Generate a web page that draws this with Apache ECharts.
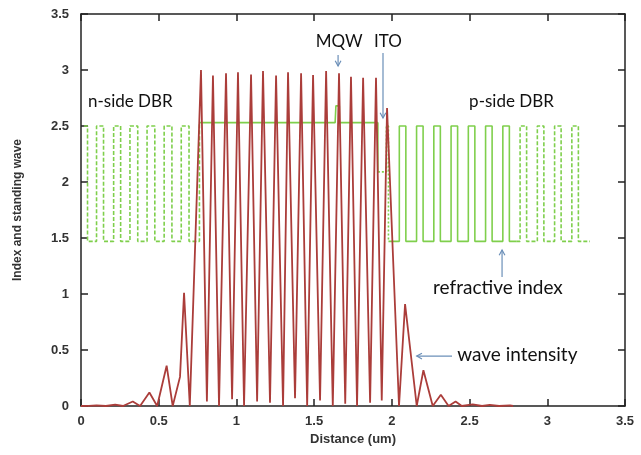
<!DOCTYPE html>
<html><head><meta charset="utf-8">
<script src="https://cdn.jsdelivr.net/npm/echarts@6/dist/echarts.min.js"></script>
<style>html,body{margin:0;padding:0;background:#fff}#c{width:641px;height:455px}</style>
</head><body><div id="c"></div>
<script>
// ---- data ----
// standing-wave intensity
const waveX = [0, 0.05, 0.10, 0.16, 0.22, 0.27, 0.333, 0.38, 0.44, 0.49, 0.551, 0.59, 0.637, 0.663, 0.70,
  0.772, 0.81, 0.849, 0.888, 0.933, 0.972, 1.010, 1.049, 1.094, 1.133, 1.171, 1.216, 1.255, 1.30, 1.332, 1.377,
  1.416, 1.455, 1.493, 1.538, 1.577, 1.62, 1.660, 1.70, 1.737, 1.776, 1.815, 1.86, 1.898, 1.935, 1.969, 2.046,
  2.085, 2.16, 2.203, 2.263, 2.315, 2.365, 2.41, 2.45, 2.52, 2.58, 2.63, 2.69, 2.76, 2.78];
const waveY = [0, 0.002, 0.006, 0.0, 0.012, 0.0, 0.04, 0.0, 0.12, 0.0, 0.36, 0.0, 0.26, 1.01, 0.0,
  3.0, 0.04, 2.95, 0.0, 2.97, 0.06, 2.98, 0.0, 2.96, 0.04, 2.99, 0.03, 2.95, 0.0, 2.98, 0.07,
  2.97, 0.0, 2.955, 0.05, 2.99, 0.0, 2.97, 0.02, 2.94, 0.0, 2.93, 0.03, 2.93, 0.05, 2.66, 0.0,
  0.91, 0.0, 0.32, 0.0, 0.1, 0.0, 0.04, 0.0, 0.015, 0.0, 0.01, 0.0, 0.005, 0.0];

// refractive index profile: layer edges (um) and index level starting at each edge
const nDbrEdges  = [0.02, 0.042, 0.10, 0.145, 0.21, 0.255, 0.315, 0.365, 0.425, 0.475, 0.535, 0.585, 0.645, 0.695, 0.762];
const nDbrLevels = [2.5, 1.47, 2.5, 1.47, 2.5, 1.47, 2.5, 1.47, 2.5, 1.47, 2.5, 1.47, 2.5, 1.47, 2.53];
const activeEdges  = [0.762, 1.635, 1.640, 1.662, 1.667, 1.91];
const activeLevels = [2.53, 2.53, 2.68, 2.53, 2.53, 2.09];
const itoEdges  = [1.91, 1.965, 1.978];
const itoLevels = [2.09, 2.5, 1.47];
const pDbrSolidEdges  = [1.978, 2.048, 2.090, 2.159, 2.201, 2.270, 2.312, 2.381, 2.423, 2.492, 2.534, 2.603, 2.645, 2.714, 2.756, 2.80];
const pDbrSolidLevels = [1.47, 2.5, 1.47, 2.5, 1.47, 2.5, 1.47, 2.5, 1.47, 2.5, 1.47, 2.5, 1.47, 2.5, 1.47, 1.47];
const pDbrDashEdges  = [2.80, 2.825, 2.867, 2.936, 2.978, 3.047, 3.089, 3.158, 3.200, 3.275];
const pDbrDashLevels = [1.47, 2.5, 1.47, 2.5, 1.47, 2.5, 1.47, 2.5, 1.47, 1.47];

const xTitle = 'Distance (um)';
const yTitle = 'Index and standing wave';

// annotations: [text, x, y (data units, left-middle anchor), font size]
const labels = [
  ['n-side DBR', 0.045, 2.717, 17],
  ['MQW', 1.51, 3.253, 17],
  ['ITO', 1.885, 3.253, 17],
  ['p-side DBR', 2.497, 2.717, 17],
  ['refractive index', 2.265, 1.054, 19],
  ['wave intensity', 2.42, 0.455, 19]
];
// arrows: [x1, y1, x2, y2] tail -> head in data units
const arrows = [
  [1.654, 3.134, 1.654, 3.036],
  [1.943, 3.152, 1.943, 2.571],
  [2.709, 1.152, 2.709, 1.393],
  [2.387, 0.446, 2.160, 0.446]
];

// ---- chart ----
const zip = (a, b) => a.map((v, i) => [v, b[i]]);
const GREEN = '#7fcf4c', RED = '#ab3d3a', AX = '#222';
const font = 'Liberation Sans, Arial, sans-serif';

function axisCommon(pos, showLabel) {
  return {
    type: 'value', min: 0, max: 3.5, interval: 0.5, position: pos,
    axisLine: { show: true, onZero: false, lineStyle: { color: AX, width: 1.5 } },
    axisTick: { show: true, inside: true, length: 7, lineStyle: { color: AX, width: 1.5 } },
    axisLabel: { show: showLabel, fontFamily: font, fontSize: 13, fontWeight: 'bold', color: '#333' },
    splitLine: { show: false }
  };
}
const xb = axisCommon('bottom', true);
xb.axisLabel.margin = 9;
xb.name = xTitle; xb.nameLocation = 'middle'; xb.nameGap = 27;
xb.nameTextStyle = { fontFamily: font, fontSize: 13, fontWeight: 'bold', color: '#333' };
const yl = axisCommon('left', true);
yl.axisLabel.margin = 12;
yl.name = yTitle; yl.nameLocation = 'middle'; yl.nameGap = 57;
yl.nameTextStyle = { fontFamily: font, fontSize: 12, fontWeight: 'bold', color: '#333' };

function stepSeries(edges, levels, type) {
  return {
    type: 'line', data: zip(edges, levels), step: 'end', showSymbol: false, symbol: 'none',
    lineStyle: { color: GREEN, width: 1.6, type: type }, z: 2, silent: true
  };
}

const chart = echarts.init(document.getElementById('c'), null, { renderer: 'canvas' });
chart.setOption({
  animation: false,
  backgroundColor: '#fff',
  grid: { left: 81, right: 16, top: 14, bottom: 49, containLabel: false },
  xAxis: [xb, axisCommon('top', false)],
  yAxis: [yl, axisCommon('right', false)],
  series: [
    stepSeries(nDbrEdges, nDbrLevels, [4, 2]),
    stepSeries(activeEdges, activeLevels, 'solid'),
    stepSeries(itoEdges, itoLevels, [2, 2]),
    stepSeries(pDbrSolidEdges, pDbrSolidLevels, 'solid'),
    stepSeries(pDbrDashEdges, pDbrDashLevels, [4, 2]),
    {
      type: 'line', data: zip(waveX, waveY), showSymbol: false, symbol: 'none',
      lineStyle: { color: RED, width: 1.8 }, z: 3, silent: true
    }
  ]
});

const P = (x, y) => chart.convertToPixel({ xAxisIndex: 0, yAxisIndex: 0 }, [x, y]);
const graphics = [];
labels.forEach(([t, x, y, fs]) => {
  const p = P(x, y);
  graphics.push({
    type: 'text', x: p[0], y: p[1], silent: true,
    style: { text: t, font: fs + 'px Lato, "Open Sans", sans-serif', fill: '#111',
      align: 'left', verticalAlign: 'middle', textAlign: 'left', textVerticalAlign: 'middle' }
  });
});
const AC = '#6b8fb8';
arrows.forEach(([x1, y1, x2, y2]) => {
  const a = P(x1, y1), b = P(x2, y2);
  const ang = Math.atan2(b[1] - a[1], b[0] - a[0]);
  const L = 6, s = 0.5;
  const h1 = [b[0] - L * Math.cos(ang - s), b[1] - L * Math.sin(ang - s)];
  const h2 = [b[0] - L * Math.cos(ang + s), b[1] - L * Math.sin(ang + s)];
  graphics.push({ type: 'line', silent: true, shape: { x1: a[0], y1: a[1], x2: b[0], y2: b[1] },
    style: { stroke: AC, lineWidth: 1.2 } });
  graphics.push({ type: 'polyline', silent: true, shape: { points: [h1, b, h2] },
    style: { stroke: AC, lineWidth: 1.2, fill: null } });
});
chart.setOption({ graphic: graphics });
</script>
</body></html>
